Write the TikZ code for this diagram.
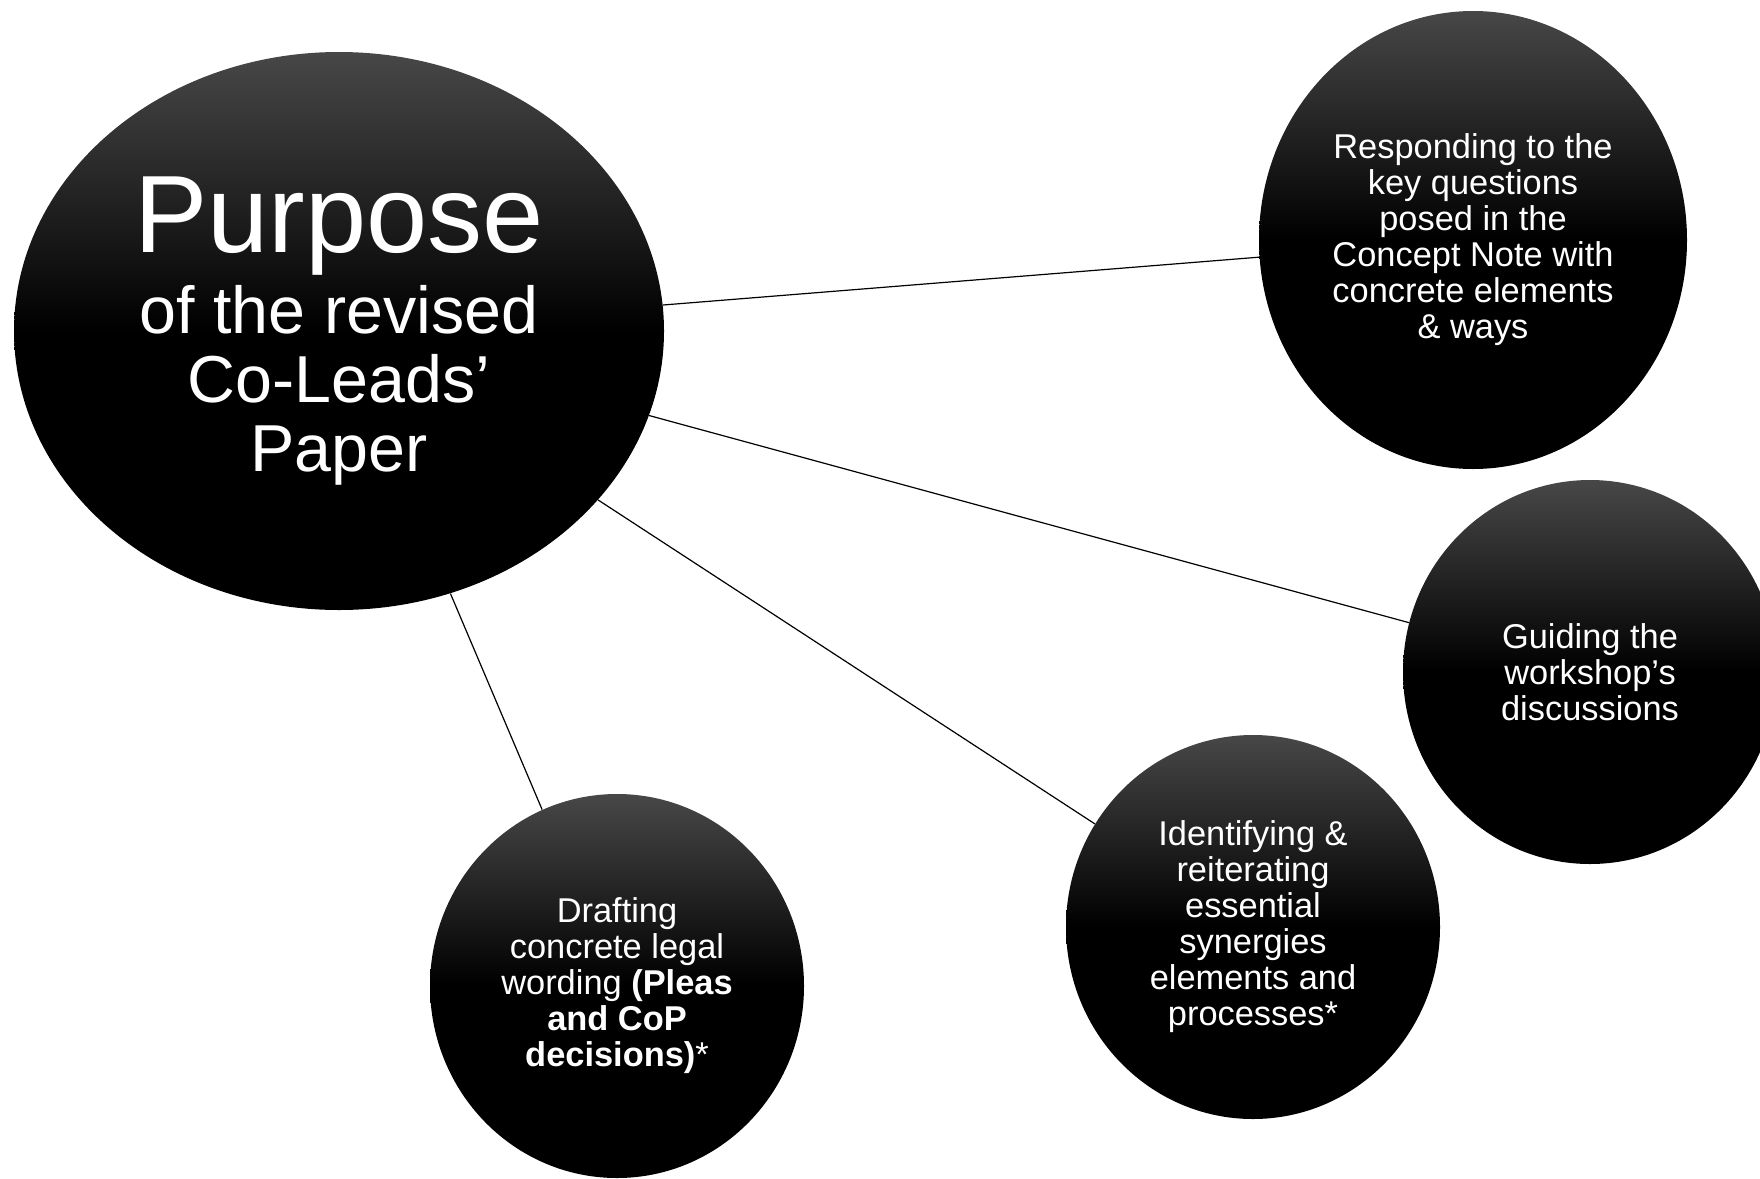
\documentclass[tikz,border=0pt]{standalone}
\usepackage{fontspec}
\setmainfont{Liberation Sans}
\usetikzlibrary{shapes.geometric}

\begin{document}
\begin{tikzpicture}[x=0.5pt, y=-0.5pt,
hub/.style={ellipse, inner sep=0pt, top color=black!72, bottom color=black, middle color=black, text=white, align=center, minimum width=325pt, minimum height=279pt},
bubble/.style={ellipse, inner sep=0pt, top color=black!72, bottom color=black, middle color=black, text=white, align=center, font=\fontsize{17.2}{18}\selectfont, minimum width=187pt, minimum height=192pt},
link/.style={line width=0.6pt}
]
\clip (0,0) rectangle (1760,1178);
\node[hub, font=\fontsize{33.2}{34.5}\selectfont] (purpose) at (339,331) {
    {\fontsize{55}{60}\selectfont Purpose}\\[4pt]
    of the revised\\
    Co-Leads’\\
    Paper
};
\node[bubble, minimum width=214pt, minimum height=229pt] (responding) at (1473,240) {
    Responding to the\\
    key questions\\
    posed in the\\
    Concept Note with\\
    concrete elements\\
    \& ways
};
\node[bubble] (guiding) at (1590,672) {
    Guiding the\\
    workshop’s\\
    discussions
};
\node[bubble] (identifying) at (1253,927) {
    Identifying \&\\
    reiterating\\
    essential\\
    synergies\\
    elements and\\
    processes*
};
\node[bubble] (drafting) at (617,986) {
    Drafting\\
    concrete legal\\
    wording \textbf{(Pleas}\\
    \textbf{and CoP}\\
    \textbf{decisions)}*
};
\draw[link] (purpose) -- (responding);
\draw[link] (purpose) -- (guiding);
\draw[link] (purpose) -- (identifying);
\draw[link] (purpose) -- (drafting);
\end{tikzpicture}
\end{document}
